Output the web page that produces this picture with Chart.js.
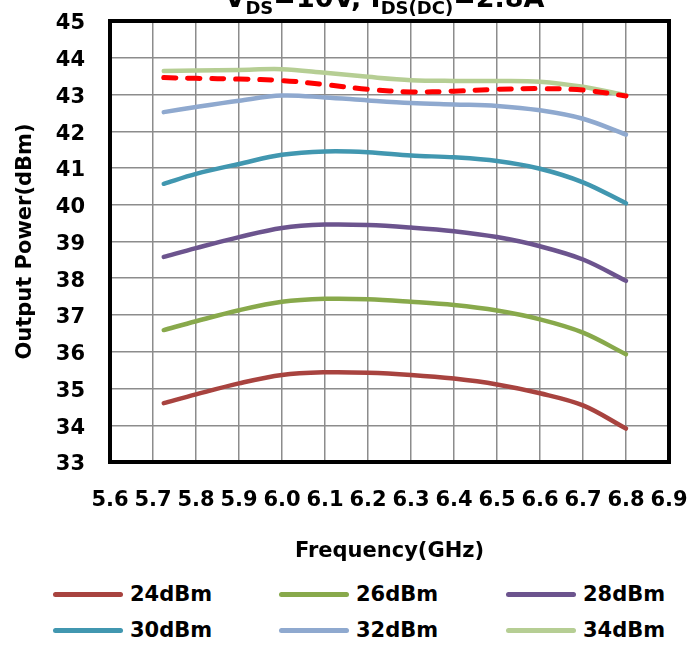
<!DOCTYPE html>
<html>
<head>
<meta charset="utf-8">
<script src="https://cdn.jsdelivr.net/npm/chart.js@4.4.0/dist/chart.umd.min.js"></script>
<style>
  body { margin: 0; background: #fff; }
  #wrap { position: relative; width: 691px; height: 653px; }
  #myChart { position: absolute; left: 0; top: 0; }
  .item { position: absolute; height: 24px; display: flex; align-items: center;
          font: bold 21px "DejaVu Sans"; color: #000; white-space: nowrap; }
  .item .ln { display: inline-block; width: 70px; height: 5px; border-radius: 3px; margin-right: 7px; }
</style>
</head>
<body>
<div id="wrap">
  <canvas id="myChart" width="691" height="575"></canvas>
  <div id="legend"></div>
</div>
<script>
// data
const freq = [5.725, 5.8, 5.9, 6.0, 6.1, 6.2, 6.3, 6.4, 6.5, 6.6, 6.7, 6.8];
const p24 = [34.60, 34.84, 35.14, 35.37, 35.44, 35.43, 35.37, 35.27, 35.11, 34.87, 34.54, 33.91];
const p26 = [36.59, 36.83, 37.13, 37.36, 37.44, 37.43, 37.36, 37.27, 37.12, 36.88, 36.52, 35.93];
const p28 = [38.58, 38.82, 39.12, 39.37, 39.46, 39.45, 39.38, 39.28, 39.12, 38.87, 38.51, 37.93];
const p30 = [40.57, 40.84, 41.11, 41.36, 41.45, 41.43, 41.34, 41.29, 41.19, 40.98, 40.61, 40.04];
const p32 = [42.52, 42.66, 42.83, 42.97, 42.92, 42.84, 42.77, 42.73, 42.69, 42.57, 42.34, 41.91];
const p34 = [43.64, 43.65, 43.67, 43.69, 43.59, 43.48, 43.39, 43.37, 43.37, 43.35, 43.21, 42.98];
const pDash = [43.46, 43.44, 43.42, 43.38, 43.27, 43.14, 43.07, 43.09, 43.14, 43.16, 43.12, 42.96];

const labels = ['24dBm', '26dBm', '28dBm', '30dBm', '32dBm', '34dBm'];
const colors = ['#A8433F', '#88A94B', '#6C548E', '#4197B0', '#8FA9CF', '#B6CE94'];
const xTicks = [5.6, 5.7, 5.8, 5.9, 6.0, 6.1, 6.2, 6.3, 6.4, 6.5, 6.6, 6.7, 6.8, 6.9];
const yTicks = [33, 34, 35, 36, 37, 38, 39, 40, 41, 42, 43, 44, 45];
const titleParts = [['V', 0], ['DS', 1], ['=10V, I', 0], ['DS(DC)', 1], ['=2.8A', 0]];

const FONT = '"DejaVu Sans"';
const pts = (ys) => ys.map((y, i) => ({ x: freq[i], y: y }));
const series = [p24, p26, p28, p30, p32, p34];

const datasets = series.map((s, i) => ({
  label: labels[i],
  data: pts(s),
  borderColor: colors[i],
  borderWidth: 4.5,
  borderCapStyle: 'round',
  pointRadius: 0,
  tension: 0.35
}));
datasets.push({
  label: '',
  data: pts(pDash),
  borderColor: '#FF0000',
  borderWidth: 5,
  borderDash: [12, 12],
  borderCapStyle: 'round',
  pointRadius: 0,
  tension: 0.35,
  order: -1
});

const framePlugin = {
  id: 'frame',
  afterDatasetsDraw(chart) {
    const { ctx, chartArea: a } = chart;
    ctx.save();
    ctx.strokeStyle = '#000';
    ctx.lineWidth = 4;
    ctx.strokeRect(a.left, a.top, a.right - a.left, a.bottom - a.top);
    ctx.restore();
  },
  afterDraw(chart) {
    const ctx = chart.ctx;
    ctx.save();
    ctx.fillStyle = '#000';
    ctx.textBaseline = 'alphabetic';
    const fMain = 'bold 27px ' + FONT, fSub = 'bold 18px ' + FONT;
    let total = 0;
    titleParts.forEach(p => { ctx.font = p[1] ? fSub : fMain; total += ctx.measureText(p[0]).width; });
    let x = 384.5 - total / 2;
    titleParts.forEach(p => {
      ctx.font = p[1] ? fSub : fMain;
      ctx.fillText(p[0], x, p[1] ? 14 : 7);
      x += ctx.measureText(p[0]).width;
    });
    ctx.restore();
  }
};

const ctx = document.getElementById('myChart');
new Chart(ctx, {
  type: 'line',
  data: { datasets: datasets },
  options: {
    responsive: false,
    animation: false,
    layout: { padding: { top: 21, right: 22, left: 0, bottom: 0 } },
    plugins: { legend: { display: false }, tooltip: { enabled: false } },
    scales: {
      x: {
        type: 'linear',
        min: 5.6, max: 6.9,
        afterBuildTicks: (s) => { s.ticks = xTicks.map(v => ({ value: v })); },
        afterFit: (s) => { s.height = 113; s.paddingLeft = 0; s.paddingRight = 0; },
        grid: { color: '#8c8c8c', lineWidth: 1.5, drawTicks: false },
        border: { display: false },
        ticks: {
          padding: 26, maxRotation: 0, autoSkip: false,
          color: '#000', font: { family: FONT, size: 21, weight: 'bold' },
          callback: (v) => v.toFixed(1)
        },
        title: {
          display: true, text: 'Frequency(GHz)', color: '#000',
          font: { family: FONT, size: 21, weight: 'bold' },
          padding: { top: 0, bottom: 11 }
        }
      },
      y: {
        min: 33, max: 45,
        afterBuildTicks: (s) => { s.ticks = yTicks.map(v => ({ value: v })); },
        afterFit: (s) => { s.width = 110; s.paddingTop = 0; s.paddingBottom = 0; },
        grid: { color: '#8c8c8c', lineWidth: 1.5, drawTicks: false },
        border: { display: false },
        ticks: {
          padding: 25, labelOffset: 3, autoSkip: false,
          color: '#000', font: { family: FONT, size: 21, weight: 'bold' }
        },
        title: {
          display: true, text: 'Output Power(dBm)', color: '#000',
          font: { family: FONT, size: 21, weight: 'bold' },
          padding: { top: 13, bottom: 0 }
        }
      }
    }
  },
  plugins: [framePlugin]
});

// legend: 3 columns x 2 rows
const legendBox = document.getElementById('legend');
const colX = [53, 279, 506];
const rowY = [594, 630];
labels.forEach((lab, i) => {
  const d = document.createElement('div');
  d.className = 'item';
  d.style.left = colX[i % 3] + 'px';
  d.style.top = (rowY[Math.floor(i / 3)] - 12) + 'px';
  const ln = document.createElement('span');
  ln.className = 'ln';
  ln.style.background = colors[i];
  d.appendChild(ln);
  d.appendChild(document.createTextNode(lab));
  legendBox.appendChild(d);
});
</script>
</body>
</html>
